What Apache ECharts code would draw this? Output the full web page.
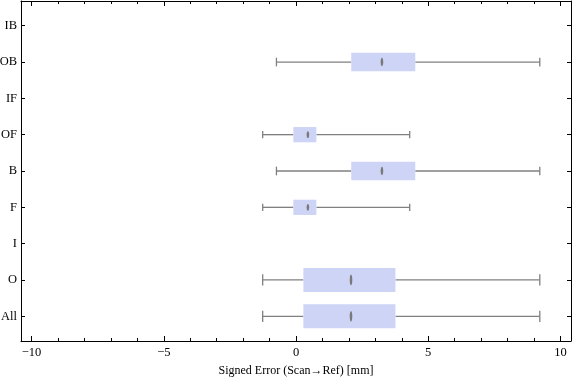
<!DOCTYPE html>
<html>
<head>
<meta charset="utf-8">
<script src="https://cdn.jsdelivr.net/npm/echarts@6/dist/echarts.min.js"></script>
<style>
html,body{margin:0;padding:0;background:#fff;}
#chart{width:576px;height:381px;}
</style>
</head>
<body>
<div id="chart"></div>
<script>
// ---- data (bottom to top) ----
var categories   = ['All', 'O', 'I', 'F', 'B', 'OF', 'IF', 'OB', 'IB'];
var whiskerLow   = [-1.26, -1.26, null, -1.26, -0.74, -1.26, null, -0.74, null];
var quartile1    = [0.28, 0.28, null, -0.10, 2.09, -0.10, null, 2.09, null];
var medians      = [2.08, 2.08, null, 0.45, 3.25, 0.45, null, 3.25, null];
var quartile3    = [3.76, 3.76, null, 0.77, 4.51, 0.77, null, 4.51, null];
var whiskerHigh  = [9.22, 9.22, null, 4.30, 9.22, 4.30, null, 9.22, null];
var xTickValues  = [-10, -5, 0, 5, 10];
var xMinorValues = [-10,-9,-8,-7,-6,-5,-4,-3,-2,-1,0,1,2,3,4,5,6,7,8,9,10];

// ---- styling ----
var boxFrac = {All:0.66, O:0.66, F:0.42, B:0.51, OF:0.42, OB:0.51};
var FONT = "'Liberation Serif', 'Times New Roman', serif";
var yPositions = categories.map(function(c, i){ return i + 1; });

var seriesData = [];
for (var i = 0; i < categories.length; i++) {
  if (medians[i] === null) continue;
  seriesData.push([yPositions[i], whiskerLow[i], quartile1[i], medians[i], quartile3[i], whiskerHigh[i], boxFrac[categories[i]]]);
}

function renderItem(params, api) {
  var y = api.value(0);
  var lo = api.coord([api.value(1), y]);
  var q1 = api.coord([api.value(2), y]);
  var md = api.coord([api.value(3), y]);
  var q3 = api.coord([api.value(4), y]);
  var hi = api.coord([api.value(5), y]);
  var unit = api.size([0, 1])[1];
  var h = unit * api.value(6);
  var cap = h * 0.47;
  var mh = h * 0.45;
  var lineStyle = {stroke: '#808080', lineWidth: 1.3};
  return {
    type: 'group',
    children: [
      {type: 'line', shape: {x1: lo[0], y1: lo[1], x2: q1[0], y2: q1[1]}, style: lineStyle},
      {type: 'line', shape: {x1: q3[0], y1: q3[1], x2: hi[0], y2: hi[1]}, style: lineStyle},
      {type: 'line', shape: {x1: lo[0], y1: lo[1] - cap/2, x2: lo[0], y2: lo[1] + cap/2}, style: lineStyle},
      {type: 'line', shape: {x1: hi[0], y1: hi[1] - cap/2, x2: hi[0], y2: hi[1] + cap/2}, style: lineStyle},
      {type: 'rect', shape: {x: q1[0], y: q1[1] - h/2, width: q3[0] - q1[0], height: h}, style: {fill: '#cdd4f5'}},
      {type: 'ellipse', shape: {cx: md[0], cy: md[1], rx: 1.3, ry: mh/2}, style: {fill: '#7a7a7a'}}
    ]
  };
}

var chart = echarts.init(document.getElementById('chart'), null, {renderer: 'canvas'});
var lineBlack = {show: true, onZero: false, lineStyle: {color: '#000', width: 1}};
var noLine = {show: false, onZero: false};
chart.setOption({
  animation: false,
  backgroundColor: '#fff',
  grid: {left: 21, right: 5, top: 1, bottom: 40, containLabel: false, outerBoundsMode: 'none'},
  xAxis: [
    {
      type: 'value', position: 'bottom', min: -10.4, max: 10.4,
      axisLine: lineBlack, splitLine: {show: false},
      axisTick: {show: true, inside: true, length: 5, customValues: xTickValues, lineStyle: {color: '#000'}},
      axisLabel: {show: true, customValues: xTickValues, color: '#000', fontFamily: FONT, fontSize: 12.5, margin: 5,
        formatter: function(v){ return v < 0 ? '\u2212' + Math.abs(v) : String(v); }},
      name: 'Signed Error (Scan\u2192Ref) [mm]', nameLocation: 'middle', nameGap: 24,
      nameTextStyle: {color: '#000', fontFamily: FONT, fontSize: 12}
    },
    {
      type: 'value', position: 'bottom', min: -10.4, max: 10.4,
      axisLine: noLine, splitLine: {show: false}, axisLabel: {show: false},
      axisTick: {show: true, inside: true, length: 3, customValues: xMinorValues, lineStyle: {color: '#000'}}
    },
    {
      type: 'value', position: 'top', min: -10.4, max: 10.4,
      axisLine: lineBlack, splitLine: {show: false}, axisLabel: {show: false},
      axisTick: {show: true, inside: true, length: 5, customValues: xTickValues, lineStyle: {color: '#000'}}
    },
    {
      type: 'value', position: 'top', min: -10.4, max: 10.4,
      axisLine: noLine, splitLine: {show: false}, axisLabel: {show: false},
      axisTick: {show: true, inside: true, length: 3, customValues: xMinorValues, lineStyle: {color: '#000'}}
    }
  ],
  yAxis: [
    {
      type: 'value', position: 'left', min: 0.32, max: 9.68,
      axisLine: lineBlack, splitLine: {show: false},
      axisTick: {show: true, inside: true, length: 4, customValues: yPositions, lineStyle: {color: '#000'}},
      axisLabel: {show: true, customValues: yPositions, color: '#000', fontFamily: FONT, fontSize: 12.5, margin: 4,
        formatter: function(v){ return categories[Math.round(v) - 1]; }}
    },
    {
      type: 'value', position: 'right', min: 0.32, max: 9.68,
      axisLine: lineBlack, splitLine: {show: false}, axisLabel: {show: false},
      axisTick: {show: true, inside: true, length: 4, customValues: yPositions, lineStyle: {color: '#000'}}
    }
  ],
  series: [{
    type: 'custom',
    xAxisIndex: 0, yAxisIndex: 0,
    renderItem: renderItem,
    encode: {x: [1, 2, 3, 4, 5], y: 0},
    data: seriesData
  }]
});
</script>
</body>
</html>
